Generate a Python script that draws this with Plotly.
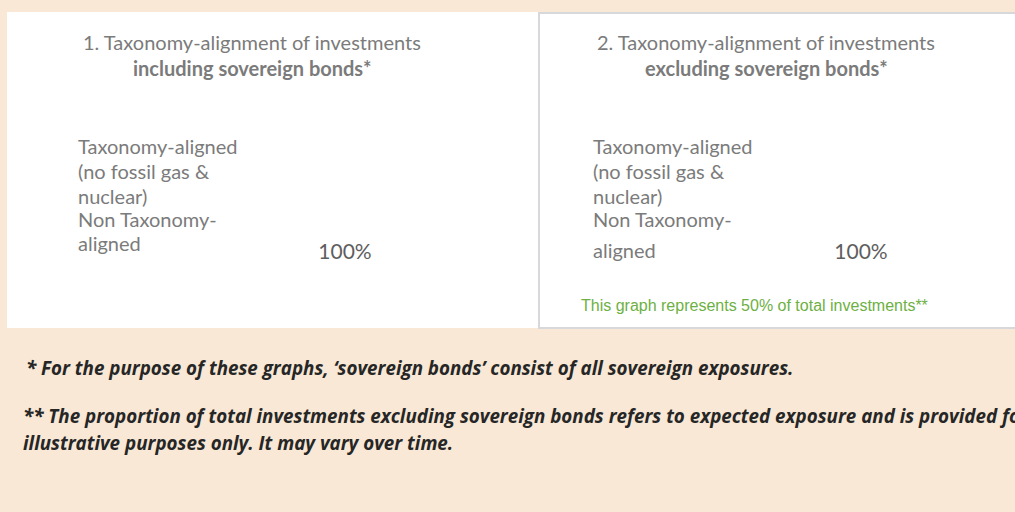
import plotly.graph_objects as go

W, H = 1015, 512

categories = ["Non Taxonomy-aligned", "Taxonomy-aligned (no fossil gas & nuclear)"]
label_lines = [["Non Taxonomy-", "aligned"], ["Taxonomy-aligned", "(no fossil gas &", "nuclear)"]]
incl_values = [100, 0]
excl_values = [100, 0]
titles = [("1. Taxonomy-alignment of investments", "including sovereign bonds*"),
          ("2. Taxonomy-alignment of investments", "excluding sovereign bonds*")]
green_note = "This graph represents 50% of total investments**"
footnotes = ["* For the purpose of these graphs, \u2018sovereign bonds\u2019 consist of all sovereign exposures.",
             "** The proportion of total investments excluding sovereign bonds refers to expected exposure and is provided for",
             "illustrative purposes only. It may vary over time."]

BEIGE = "#F8E8D5"
GRAY = "#7B7B7B"
DARK = "#5E5E5E"
FONT = "Lato"

def px(x):
    return x / W

def py(y):
    return 1 - y / H

fig = go.Figure()

for i, vals in enumerate([incl_values, excl_values]):
    ax = "" if i == 0 else "2"
    fig.add_trace(go.Bar(
        y=categories, x=vals, orientation="h",
        marker=dict(color="white", line=dict(width=0)),
        text=[f"{v}%" if v else "" for v in vals],
        textposition="inside", insidetextanchor="middle",
        textfont=dict(family=FONT, size=21, color=DARK),
        xaxis="x" + ax, yaxis="y" + ax, showlegend=False, hoverinfo="skip",
        width=0.8,
    ))

xdoms = [[px(250), px(440)], [px(766), px(956)]]
ydom = [py(290), py(130)]
for i in range(2):
    ax = "" if i == 0 else "2"
    fig.layout["xaxis" + ax] = dict(domain=xdoms[i], range=[0, 100], visible=False, fixedrange=True,
                                    anchor="y" + ax)
    fig.layout["yaxis" + ax] = dict(domain=ydom, visible=False, range=[-0.5, 1.5], fixedrange=True,
                                    anchor="x" + ax, type="category", categoryarray=categories)

shapes = [
    dict(type="rect", xref="paper", yref="paper", x0=px(7), x1=px(538), y0=py(328), y1=py(12),
         fillcolor="white", line=dict(width=0), layer="below"),
    dict(type="rect", xref="paper", yref="paper", x0=px(539), x1=px(1017), y0=py(328), y1=py(13),
         fillcolor="white", line=dict(color="#D6D8DC", width=2), layer="below"),
]

ann = []
centers = [252, 766]
for i, (t1, t2) in enumerate(titles):
    ann.append(dict(x=px(centers[i]), y=py(42), text=t1, showarrow=False, xanchor="center", yanchor="middle",
                    font=dict(family=FONT, size=20, color=GRAY)))
    ann.append(dict(x=px(centers[i]), y=py(68), text="<b>" + t2 + "</b>", showarrow=False, xanchor="center",
                    yanchor="middle", font=dict(family=FONT, size=20, color=GRAY)))

label_x = [76, 591]
for i in range(2):
    ys_top = [146, 171, 196]
    for line, yy in zip(label_lines[1], ys_top):
        ann.append(dict(x=px(label_x[i]), y=py(yy), text=line, showarrow=False, xanchor="left", yanchor="middle",
                        font=dict(family=FONT, size=20, color=GRAY)))
    ys_bot = [219, 243] if i == 0 else [219, 250]
    for line, yy in zip(label_lines[0], ys_bot):
        ann.append(dict(x=px(label_x[i]), y=py(yy), text=line, showarrow=False, xanchor="left", yanchor="middle",
                        font=dict(family=FONT, size=20, color=GRAY)))

ann.append(dict(x=px(579), y=py(305), text=green_note, showarrow=False, xanchor="left", yanchor="middle",
                font=dict(family="Liberation Sans, Arial", size=16, color="#6DB043")))

for txt, yy, xx in zip(footnotes, [368, 416, 443], [24, 21, 21]):
    ann.append(dict(x=px(xx), y=py(yy), text="<b><i>" + txt + "</i></b>", showarrow=False, xanchor="left",
                    yanchor="middle", font=dict(family="Open Sans", size=18.8, color="#262626")))

for a in ann:
    a["xref"] = "paper"
    a["yref"] = "paper"

fig.update_layout(
    width=W, height=H, margin=dict(l=0, r=0, t=0, b=0),
    paper_bgcolor=BEIGE, plot_bgcolor="rgba(0,0,0,0)",
    shapes=shapes, annotations=ann, barmode="stack",
)

fig.write_html("out.html", config={"displayModeBar": False},
               post_script="document.body.style.margin='0';document.body.style.overflow='hidden';")
